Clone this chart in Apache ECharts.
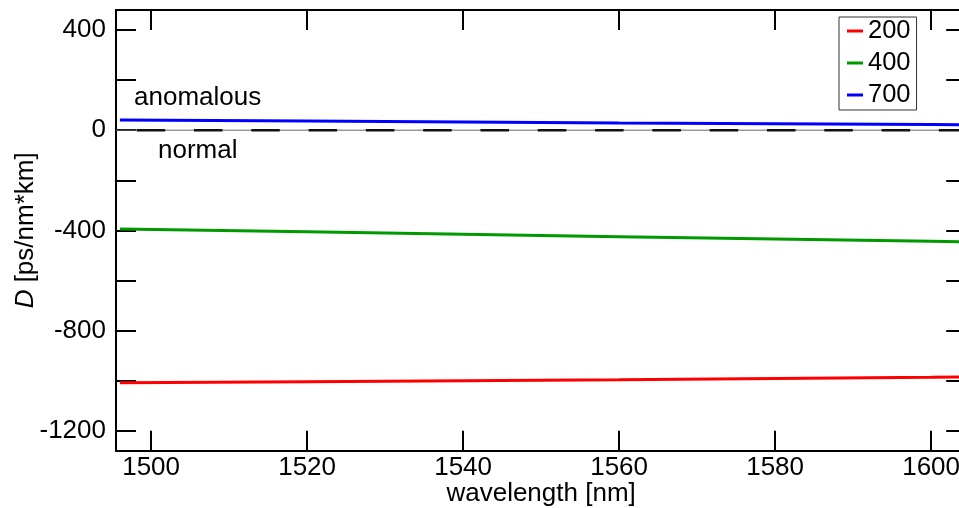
<!DOCTYPE html>
<html>
<head>
<meta charset="utf-8">
<style>
  html, body { margin: 0; padding: 0; background: #fff; }
  #chart { width: 959px; height: 508px; }
</style>
<script src="https://cdn.jsdelivr.net/npm/echarts@6/dist/echarts.min.js"></script>
</head>
<body>
<div id="chart"></div>
<script>
// Wavelength samples [nm]
const wavelength = [1496, 1520, 1540, 1560, 1580, 1600, 1604];
// Dispersion D [ps/nm*km] for each core size
const d200 = [-1009, -1005, -1001, -997, -992, -987, -985];
const d400 = [-395, -406, -416, -426, -435, -444, -446];
const d700 = [41, 37, 33, 29, 25.5, 22.5, 22];
const seriesNames = ['200', '400', '700'];
const seriesColors = ['#ff0000', '#009900', '#0000ff'];

// Axis ranges and tick positions
const xRange = [1495.5, 1604.5];
const yRange = [-1280, 480];
const xTicks = [1500, 1520, 1540, 1560, 1580, 1600];
const yTicks = [-1200, -1000, -800, -600, -400, -200, 0, 200, 400];
const yLabels = [-1200, -800, -400, 0, 400];

// Region labels
const regionLabels = ['anomalous', 'normal'];

const FONT = 'Liberation Sans';
const FS = 26;

const pair = (xs, ys) => xs.map((x, i) => [x, ys[i]]);
const plain = v => String(v);

const chart = echarts.init(document.getElementById('chart'), null, { renderer: 'canvas' });

const tickStyle = { show: true, inside: true, length: 20, lineStyle: { color: '#000', width: 2 } };
const axisLine = { show: true, onZero: false, lineStyle: { color: '#000', width: 2 } };

const lineSeries = [d200, d400, d700].map((vals, i) => ({
  name: seriesNames[i],
  type: 'line',
  data: pair(wavelength, vals),
  showSymbol: false,
  symbol: 'none',
  clip: true,
  lineStyle: { color: seriesColors[i], width: 3 },
  itemStyle: { color: seriesColors[i] },
  z: 5
}));

const option = {
  animation: false,
  backgroundColor: '#fff',
  textStyle: { fontFamily: FONT },
  grid: {
    left: 116, top: 10, width: 850.2, height: 440.7,
    containLabel: false, outerBoundsMode: 'none'
  },
  legend: {
    data: seriesNames,
    orient: 'vertical',
    left: 839,
    top: 17,
    icon: 'rect',
    itemWidth: 16,
    itemHeight: 3,
    itemGap: 6,
    padding: [1, 6, 2, 8],
    borderColor: '#333',
    borderWidth: 1,
    selectedMode: false,
    textStyle: { fontFamily: FONT, fontSize: 25.5, color: '#000', lineHeight: 25 }
  },
  xAxis: [
    {
      type: 'value',
      position: 'bottom',
      min: xRange[0],
      max: xRange[1],
      name: 'wavelength [nm]',
      nameLocation: 'middle',
      nameGap: 30,
      nameMoveOverlap: false,
      nameTextStyle: { fontFamily: FONT, fontSize: FS, color: '#000' },
      axisLine: axisLine,
      axisTick: Object.assign({ customValues: xTicks }, tickStyle),
      axisLabel: { customValues: xTicks, formatter: plain, fontFamily: FONT, fontSize: FS, color: '#000', margin: 4 },
      splitLine: { show: false }
    },
    {
      type: 'value',
      position: 'top',
      min: xRange[0],
      max: xRange[1],
      axisLine: axisLine,
      axisTick: Object.assign({ customValues: xTicks }, tickStyle),
      axisLabel: { show: false },
      splitLine: { show: false }
    }
  ],
  yAxis: [
    {
      type: 'value',
      position: 'left',
      min: yRange[0],
      max: yRange[1],
      name: '{i|D} [ps/nm*km]',
      nameLocation: 'middle',
      nameGap: 77,
      nameRotate: 90,
      nameMoveOverlap: false,
      nameTextStyle: {
        fontFamily: FONT, fontSize: FS, color: '#000',
        rich: { i: { fontFamily: FONT, fontSize: FS, fontStyle: 'italic', color: '#000' } }
      },
      axisLine: axisLine,
      axisTick: Object.assign({ customValues: yTicks }, tickStyle),
      axisLabel: { customValues: yLabels, formatter: plain, fontFamily: FONT, fontSize: FS, color: '#000', margin: 10 },
      splitLine: { show: false }
    },
    {
      type: 'value',
      position: 'right',
      min: yRange[0],
      max: yRange[1],
      axisLine: axisLine,
      axisTick: Object.assign({ customValues: yTicks }, tickStyle),
      axisLabel: { show: false },
      splitLine: { show: false }
    }
  ],
  graphic: [
    {
      type: 'text', left: 134, top: 85,
      style: { text: regionLabels[0], fontFamily: FONT, fontSize: FS, fill: '#000' }
    },
    {
      type: 'text', left: 158, top: 138,
      style: { text: regionLabels[1], fontFamily: FONT, fontSize: FS, fill: '#000' }
    }
  ],
  series: [
    // zero-dispersion reference: thin solid line with a dashed overlay
    {
      name: 'zeroBase', type: 'line', data: [[xRange[0], 0], [xRange[1], 0]],
      showSymbol: false, symbol: 'none', silent: true,
      lineStyle: { color: '#666', width: 1 }, z: 3
    },
    {
      name: 'zeroDash', type: 'line', data: [[xRange[0], 0], [xRange[1], 0]],
      showSymbol: false, symbol: 'none', silent: true,
      lineStyle: { color: '#111', width: 2.5, type: [28.5, 28.8], dashOffset: 36.6 }, z: 4
    }
  ].concat(lineSeries)
};

chart.setOption(option);
</script>
</body>
</html>
